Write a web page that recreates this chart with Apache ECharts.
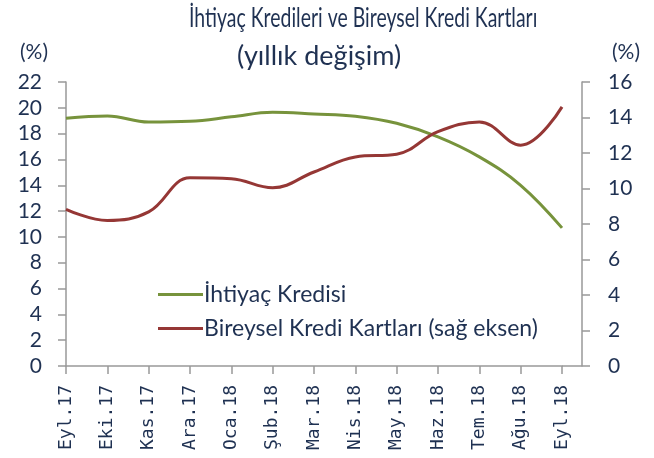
<!DOCTYPE html>
<html>
<head>
<meta charset="utf-8">
<script src="https://cdn.jsdelivr.net/npm/echarts@6/dist/echarts.min.js"></script>
<style>
  html, body { margin: 0; padding: 0; background: #fff; }
  #chart { width: 654px; height: 458px; }
</style>
</head>
<body>
<div id="chart"></div>
<script>
// Monthly categories (Sep 2017 – Sep 2018)
const months = ['Eyl.17', 'Eki.17', 'Kas.17', 'Ara.17', 'Oca.18', 'Şub.18', 'Mar.18',
                'Nis.18', 'May.18', 'Haz.18', 'Tem.18', 'Ağu.18', 'Eyl.18'];

// Annual change, % — consumer loans (left axis)
const ihtiyacKredisi = [19.2, 19.37, 18.9, 18.96, 19.3, 19.66, 19.53, 19.35, 18.8, 17.75, 16.2, 14.0, 10.7];

// Annual change, % — individual credit cards (right axis)
const krediKartlari = [8.83, 8.2, 8.68, 10.6, 10.55, 10.04, 10.93, 11.78, 11.93, 13.2, 13.75, 12.44, 14.6];

const leftTicks = { min: 0, max: 22, interval: 2 };
const rightTicks = { min: 0, max: 16, interval: 2 };

const FONT = 'Lato';
const MONTH_FONT = 'DejaVu Sans Mono';
const TEXT = '#1F3152';
const AXIS = '#999999';
const GREEN = '#77933C';
const RED = '#953735';

const chart = echarts.init(document.getElementById('chart'), null, { renderer: 'canvas' });

chart.setOption({
  animation: false,
  backgroundColor: '#ffffff',
  textStyle: { fontFamily: FONT, color: TEXT },
  title: [
    { text: '(%)', left: 15, top: 37,
      textStyle: { fontFamily: FONT, fontSize: 21, fontWeight: 'normal', color: TEXT } },
    { text: '(%)', left: 607, top: 37,
      textStyle: { fontFamily: FONT, fontSize: 21, fontWeight: 'normal', color: TEXT } }
  ],
  legend: {
    orient: 'vertical',
    left: 158,
    top: 283,
    padding: 0,
    icon: 'rect',
    itemWidth: 45,
    itemHeight: 3,
    itemGap: 11,
    textStyle: { fontFamily: FONT, fontSize: 23, color: TEXT, padding: [0, 0, 0, -4] },
    data: ['İhtiyaç Kredisi', 'Bireysel Kredi Kartları (sağ eksen)']
  },
  grid: { left: 66, right: 92, top: 82, bottom: 92, containLabel: false },
  xAxis: {
    type: 'category',
    data: months,
    boundaryGap: false,
    axisLine: { lineStyle: { color: AXIS, width: 1.5 } },
    axisTick: { show: true, length: 8, inside: false, alignWithLabel: true,
                lineStyle: { color: AXIS, width: 1.5 } },
    axisLabel: { rotate: 90, margin: 19, fontFamily: MONTH_FONT, fontSize: 18, color: TEXT, interval: 0 },
    splitLine: { show: false }
  },
  yAxis: [
    {
      type: 'value', position: 'left',
      min: leftTicks.min, max: leftTicks.max, interval: leftTicks.interval,
      axisLine: { show: true, lineStyle: { color: AXIS, width: 1.5 } },
      axisTick: { show: true, length: 8, lineStyle: { color: AXIS, width: 1.5 } },
      axisLabel: { margin: 24, fontFamily: FONT, fontSize: 21, color: TEXT },
      splitLine: { show: false }
    },
    {
      type: 'value', position: 'right', offset: 20,
      min: rightTicks.min, max: rightTicks.max, interval: rightTicks.interval,
      axisLine: { show: true, lineStyle: { color: AXIS, width: 1.5 } },
      axisTick: { show: true, length: 8, lineStyle: { color: AXIS, width: 1.5 } },
      axisLabel: { margin: 26, fontFamily: FONT, fontSize: 21, color: TEXT },
      splitLine: { show: false }
    }
  ],
  graphic: [
    // narrow, tall heading
    { type: 'text', x: 189, y: 5, scaleX: 0.72,
      style: { text: 'İhtiyaç Kredileri ve Bireysel Kredi Kartları',
               font: '27px ' + FONT, fill: TEXT, textAlign: 'left', textVerticalAlign: 'top' } },
    { type: 'text', x: 237, y: 43,
      style: { text: '(yıllık değişim)',
               font: '27px ' + FONT, fill: TEXT, textAlign: 'left', textVerticalAlign: 'top' } },
    // carry the category axis line over to the right-hand value axis
    { type: 'line', shape: { x1: 562, y1: 366, x2: 582, y2: 366 },
      style: { stroke: AXIS, lineWidth: 1.5 }, z: 1 }
  ],
  series: [
    {
      name: 'İhtiyaç Kredisi', type: 'line', yAxisIndex: 0,
      data: ihtiyacKredisi, smooth: 0.4, symbol: 'none',
      lineStyle: { color: GREEN, width: 3 }, itemStyle: { color: GREEN }
    },
    {
      name: 'Bireysel Kredi Kartları (sağ eksen)', type: 'line', yAxisIndex: 1,
      data: krediKartlari, smooth: 0.4, symbol: 'none',
      lineStyle: { color: RED, width: 3 }, itemStyle: { color: RED }
    }
  ]
});
</script>
</body>
</html>
